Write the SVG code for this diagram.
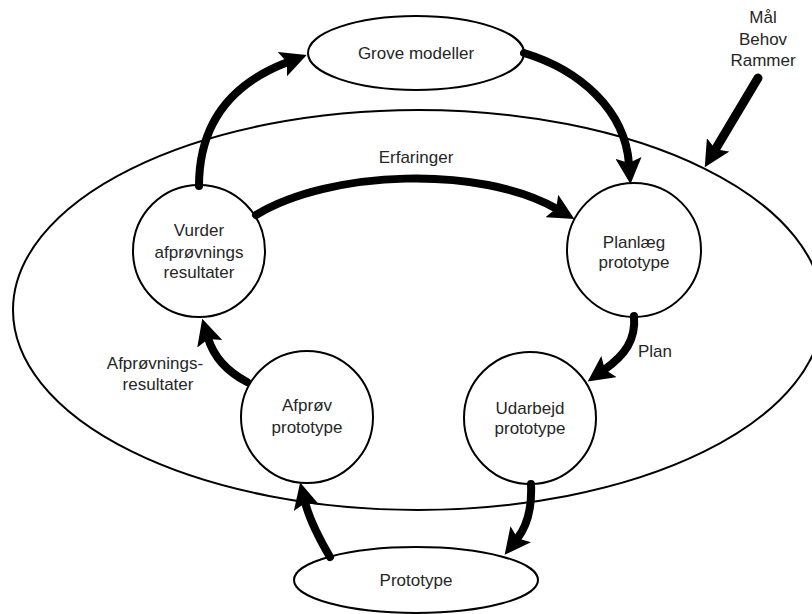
<svg xmlns="http://www.w3.org/2000/svg" width="812" height="614" viewBox="0 0 812 614">
  <style>
    .shape { fill: #ffffff; stroke: #000000; stroke-width: 2; }
    .frame { fill: none; stroke: #000000; stroke-width: 2; }
    .label { font-family: "Liberation Sans", Arial, sans-serif; font-size: 17px; fill: #262626; text-anchor: middle; }
    .flow { fill: none; stroke: #000000; stroke-width: 8; stroke-linecap: round; marker-end: url(#head); }
  </style>
  <defs>
    <marker id="head" viewBox="0 0 26 26" markerWidth="26" markerHeight="26" markerUnits="userSpaceOnUse" refX="6" refY="13" orient="auto">
      <path d="M0,0 L26,13 L0,26 L5,13 z" fill="#000000"/>
    </marker>
  </defs>

  <!-- surrounding context ellipse (runs slightly past the right edge) -->
  <ellipse id="context" class="frame" cx="418" cy="310" rx="405" ry="200"/>

  <g id="grove-modeller">
    <ellipse class="shape" cx="416" cy="53" rx="108" ry="37"/>
    <text class="label" x="416" y="59">Grove modeller</text>
  </g>

  <g id="vurder">
    <circle class="shape" cx="199" cy="251" r="66"/>
    <text class="label" x="199" y="236">Vurder</text>
    <text class="label" x="199" y="258">afprøvnings</text>
    <text class="label" x="199" y="278">resultater</text>
  </g>

  <g id="planlaeg">
    <circle class="shape" cx="634" cy="250" r="67"/>
    <text class="label" x="634" y="248">Planlæg</text>
    <text class="label" x="634" y="268">prototype</text>
  </g>

  <g id="udarbejd">
    <circle class="shape" cx="530" cy="418" r="66"/>
    <text class="label" x="530" y="414">Udarbejd</text>
    <text class="label" x="530" y="434">prototype</text>
  </g>

  <g id="afproev">
    <circle class="shape" cx="307" cy="417" r="66"/>
    <text class="label" x="307" y="411">Afprøv</text>
    <text class="label" x="307" y="433">prototype</text>
  </g>

  <g id="prototype">
    <ellipse class="shape" cx="416" cy="580" rx="122" ry="33"/>
    <text class="label" x="416" y="586">Prototype</text>
  </g>

  <g id="inputs">
    <text class="label" x="763" y="23">Mål</text>
    <text class="label" x="763" y="45">Behov</text>
    <text class="label" x="763" y="66">Rammer</text>
  </g>

  <g id="connectors">
    <path class="flow" d="M199,186 C199,120 235,82 288,62"/>
    <path class="flow" d="M524,53 C580,70 625,110 629,164"/>
    <path class="flow" d="M256,215 C330,170 480,165 557,209"/>
    <path class="flow" d="M634,316 C636,340 625,355 604,370"/>
    <path class="flow" d="M531,484 C532,505 528,525 517,539"/>
    <path class="flow" d="M330,557 C320,540 310,522 305,502"/>
    <path class="flow" d="M247,382 C228,372 214,358 208,338"/>
    <path class="flow" d="M758,78 L715,150" style="stroke-width:9"/>
    <text class="label" x="416" y="163">Erfaringer</text>
    <text class="label" x="655" y="357">Plan</text>
    <text class="label" x="155" y="369">Afprøvnings-</text>
    <text class="label" x="158" y="390">resultater</text>
  </g>
</svg>
